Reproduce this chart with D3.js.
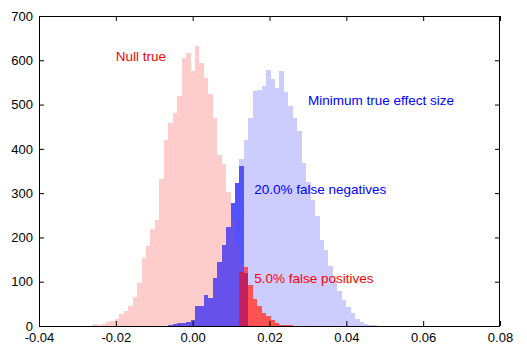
<!DOCTYPE html>
<html><head><meta charset="utf-8">
<script src="https://cdn.jsdelivr.net/npm/d3@7"></script>
<style>
body{margin:0;background:#fff}
svg text{font-family:"Liberation Sans",Arial,Helvetica,sans-serif}
</style>
</head><body>
<svg id="c" width="527" height="356"></svg>
<script>
// ---- data ----
const binOrigin = 0.0006;      // left edge of bin index 0
const binWidth = 0.001158;

// Null true histogram (bin index starts at -23)
const nullStart = -23;
const nullCounts = [4,2,4,8,12,15,26,33,46,65,98,154,180,218,239,332,420,458,480,519,606,616,575,
  632,595,559,524,470,386,365,303,240,185,140,134,92,62,45,30,22,14,6,3,2,2];

// Minimum true effect histogram (bin index starts at -7)
const altStart = -7;
const altCounts = [1,2,4,7,7,9,13,45,46,70,63,108,145,183,224,278,322,378,421,470,530,533,542,578,558,537,
  576,528,497,470,440,367,325,284,248,194,172,135,103,80,58,42,30,15,8,4,2,2,1];

// False negatives (effect below threshold), bin index starts at -7
const falseNegStart = -7;
const falseNegCounts = [1,2,4,7,7,9,13,45,46,70,63,108,145,183,224,278,322,361,119];

// False positives (null above threshold), bin index starts at 10
const falsePosStart = 10;
const falsePosCounts = [123,134,92,62,45,30,22,14,6,3,2,2,1];

const xTicks = [-0.04,-0.02,0,0.02,0.04,0.06,0.08];
const xTickLabels = ["-0.04","-0.02","0.00","0.02","0.04","0.06","0.08"];
const yTicks = [0,100,200,300,400,500,600,700];
const yTickLabels = ["0","100","200","300","400","500","600","700"];

const annotationTexts = ["Null true","Minimum true effect size","20.0% false negatives","5.0% false positives"];

// ---- drawing ----
const svg = d3.select("#c");
const L = 39, R = 500, T = 16, B = 326;
const x = d3.scaleLinear().domain([-0.04,0.08]).range([L,R]);
const y = d3.scaleLinear().domain([0,700]).range([B,T]);

function drawHist(counts, start, fill, cls){
  const data = counts.map((c,i)=>({x0: binOrigin + (start+i)*binWidth, x1: binOrigin + (start+i+1)*binWidth, c}));
  svg.append("g").attr("class",cls).selectAll("rect").data(data).join("rect")
    .attr("x", d=>x(d.x0)).attr("width", d=>x(d.x1)-x(d.x0))
    .attr("y", d=>y(d.c)).attr("height", d=>y(0)-y(d.c))
    .attr("fill", fill).attr("shape-rendering","crispEdges");
}
drawHist(altCounts, altStart, "#ccccff", "alt");
drawHist(nullCounts, nullStart, "#ffcccc", "null");
drawHist(falseNegCounts, falseNegStart, "rgba(0,0,255,0.6)", "fneg");
drawHist(falsePosCounts, falsePosStart, "rgba(255,0,0,0.6)", "fpos");

// axes
const fs = "13px";
const gB = svg.append("g").attr("transform",`translate(0,${B})`)
  .call(d3.axisBottom(x).tickValues(xTicks).tickFormat((d,i)=>xTickLabels[i]).tickSize(-5).tickSizeOuter(0).tickPadding(7));
const gT = svg.append("g").attr("transform",`translate(0,${T})`)
  .call(d3.axisTop(x).tickValues(xTicks).tickFormat("").tickSize(-5).tickSizeOuter(0));
const gL = svg.append("g").attr("transform",`translate(${L},0)`)
  .call(d3.axisLeft(y).tickValues(yTicks).tickFormat((d,i)=>yTickLabels[i]).tickSize(-5).tickSizeOuter(0).tickPadding(6));
const gR = svg.append("g").attr("transform",`translate(${R},0)`)
  .call(d3.axisRight(y).tickValues(yTicks).tickFormat("").tickSize(-5).tickSizeOuter(0));
[gB,gT,gL,gR].forEach(g=>{
  g.select(".domain").remove();
  g.selectAll("text").attr("font-size",fs).attr("fill","#000").style("font-family","'Liberation Sans',Arial,sans-serif");
  g.selectAll("line").attr("stroke","#000");
});
svg.append("rect").attr("x",L+0.5).attr("y",T+0.5).attr("width",R-L-1).attr("height",B-T)
  .attr("fill","none").attr("stroke","#000").attr("stroke-width",1);

// annotations
const ann = [
  {t:annotationTexts[0], x:-0.02, y:600, c:"#ff0000"},
  {t:annotationTexts[1], x:0.03,  y:500, c:"#0000ff"},
  {t:annotationTexts[2], x:0.016, y:300, c:"#0000ff"},
  {t:annotationTexts[3], x:0.016, y:100, c:"#ff0000"}
];
svg.append("g").selectAll("text").data(ann).join("text")
  .attr("x",d=>x(d.x)).attr("y",d=>y(d.y)).attr("dy","0.06em")
  .attr("fill",d=>d.c).attr("font-size","13.5px").text(d=>d.t);
</script>
</body></html>
